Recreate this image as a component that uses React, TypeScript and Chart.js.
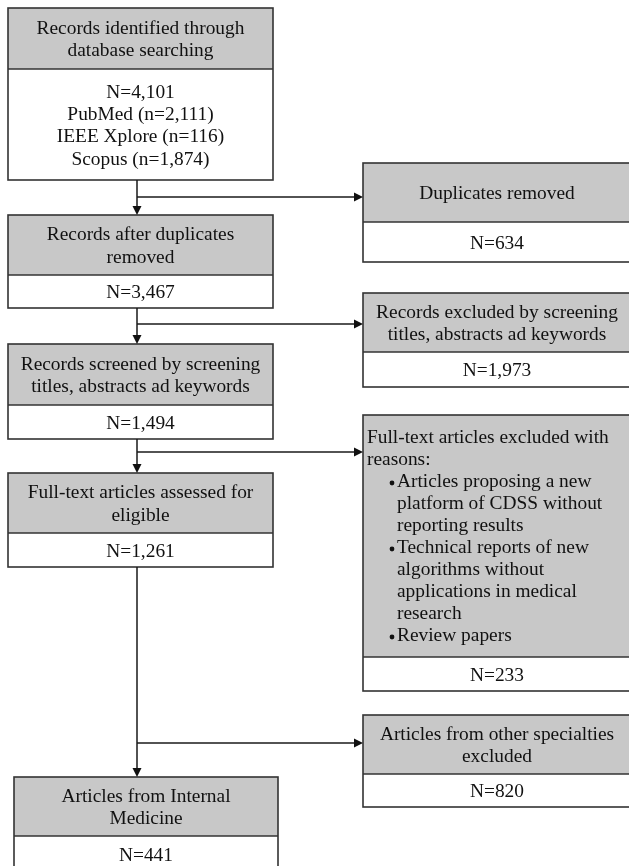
import React, { useEffect, useRef } from "react";
import { Chart, registerables } from "chart.js";

Chart.register(...registerables);

// ---------- content (data) ----------
const stageTitles = [
  ["Records identified through", "database searching"],
  ["Records after duplicates", "removed"],
  ["Records screened by screening", "titles, abstracts ad keywords"],
  ["Full-text articles assessed for", "eligible"],
  ["Articles from Internal", "Medicine"],
];
const stageCounts = [4101, 3467, 1494, 1261, 441];

const sourceNames = ["PubMed", "IEEE Xplore", "Scopus"];
const sourceCounts = [2111, 116, 1874];

const exclusionTitles = [
  ["Duplicates removed"],
  ["Records excluded by screening", "titles, abstracts ad keywords"],
  ["Full-text articles excluded with", "reasons:"],
  ["Articles from other specialties", "excluded"],
];
const exclusionCounts = [634, 1973, 233, 820];
const exclusionReasons = [
  ["Articles proposing a new", "platform of CDSS without", "reporting results"],
  ["Technical reports of new", "algorithms without", "applications in medical", "research"],
  ["Review papers"],
];

// ---------- layout (in axis units) ----------
const leftX = [[8, 273], [8, 273], [8, 273], [8, 273], [14, 278]];
const leftY = [
  [8, 69, 180],
  [215, 275, 308],
  [344, 405, 439],
  [473, 533, 567],
  [777, 836, 872],
];
const rightX = [363, 631];
const rightY = [
  [163, 222, 262],
  [293, 352, 387],
  [415, 657, 691],
  [715, 774, 807],
];
const trunkX = 137;
const branchY = [197, 324, 452, 743];

const fmt = (n: number) => n.toLocaleString("en-US");

const FONT = '19.4px "Liberation Serif", "Times New Roman", serif';
const LH = 22.3;
const GRAY = "#c8c8c8";
const EDGE = "#333333";
const INK = "#111111";

export default function App() {
  const ref = useRef<HTMLCanvasElement | null>(null);

  useEffect(() => {
    const canvas = ref.current;
    if (!canvas) return;

    // connectors as line datasets
    const connectors: { x: number; y: number }[][] = [];
    for (let i = 0; i < 4; i++) {
      const fromY = leftY[i][2];
      const toY = leftY[i + 1][0];
      connectors.push([
        { x: trunkX, y: fromY },
        { x: trunkX, y: toY - 8 },
      ]);
      connectors.push([
        { x: trunkX, y: branchY[i] },
        { x: rightX[0] - 8, y: branchY[i] },
      ]);
    }

    const boxesPlugin = {
      id: "flowBoxes",
      beforeDatasetsDraw(chart: any) {
        const { ctx, scales } = chart;
        const px = (v: number) => scales.x.getPixelForValue(v);
        const py = (v: number) => scales.y.getPixelForValue(v);

        const drawBox = (x0: number, x1: number, y0: number, y1: number, y2: number) => {
          const X0 = px(x0), X1 = px(x1), Y0 = py(y0), Y1 = py(y1), Y2 = py(y2);
          ctx.save();
          ctx.fillStyle = GRAY;
          ctx.fillRect(X0, Y0, X1 - X0, Y1 - Y0);
          ctx.fillStyle = "#ffffff";
          ctx.fillRect(X0, Y1, X1 - X0, Y2 - Y1);
          ctx.strokeStyle = EDGE;
          ctx.lineWidth = 1.6;
          ctx.strokeRect(X0, Y0, X1 - X0, Y2 - Y0);
          ctx.beginPath();
          ctx.moveTo(X0, Y1);
          ctx.lineTo(X1, Y1);
          ctx.stroke();
          ctx.restore();
        };

        const centeredLines = (lines: string[], cx: number, top: number, bottom: number) => {
          ctx.save();
          ctx.font = FONT;
          ctx.fillStyle = INK;
          ctx.textAlign = "center";
          ctx.textBaseline = "middle";
          const mid = (py(top) + py(bottom)) / 2 + 1.5;
          const start = mid - ((lines.length - 1) * LH) / 2;
          lines.forEach((l, i) => ctx.fillText(l, px(cx), start + i * LH));
          ctx.restore();
        };

        // left column stages
        stageTitles.forEach((title, i) => {
          const [x0, x1] = leftX[i];
          const [y0, y1, y2] = leftY[i];
          drawBox(x0, x1, y0, y1, y2);
          const cx = (x0 + x1) / 2;
          centeredLines(title, cx, y0, y1);
          const body = ["N=" + fmt(stageCounts[i])];
          if (i === 0) {
            sourceNames.forEach((s, k) => body.push(`${s} (n=${fmt(sourceCounts[k])})`));
          }
          centeredLines(body, cx, y1, y2);
        });

        // right column exclusions
        exclusionTitles.forEach((title, i) => {
          const [y0, y1, y2] = rightY[i];
          drawBox(rightX[0], rightX[1], y0, y1, y2);
          const cx = (rightX[0] + rightX[1]) / 2;
          if (i === 2) {
            // left-aligned with bullets
            const rows: { t: string; bullet: boolean; indent: boolean }[] = [];
            title.forEach((t) => rows.push({ t, bullet: false, indent: false }));
            exclusionReasons.forEach((r) =>
              r.forEach((t, k) => rows.push({ t, bullet: k === 0, indent: true }))
            );
            ctx.save();
            ctx.font = FONT;
            ctx.fillStyle = INK;
            ctx.textAlign = "left";
            ctx.textBaseline = "middle";
            const mid = (py(y0) + py(y1)) / 2 + 1;
            const start = mid - ((rows.length - 1) * 22) / 2;
            rows.forEach((r, k) => {
              const yy = start + k * 22;
              if (r.indent) {
                if (r.bullet) {
                  ctx.beginPath();
                  ctx.arc(px(rightX[0] + 29), yy + 1, 2.4, 0, Math.PI * 2);
                  ctx.fill();
                }
                ctx.fillText(r.t, px(rightX[0] + 34), yy);
              } else {
                ctx.fillText(r.t, px(rightX[0] + 4), yy);
              }
            });
            ctx.restore();
          } else {
            centeredLines(title, cx, y0, y1);
          }
          centeredLines(["N=" + fmt(exclusionCounts[i])], cx, y1, y2);
        });
      },
      afterDatasetsDraw(chart: any) {
        const { ctx, scales } = chart;
        const px = (v: number) => scales.x.getPixelForValue(v);
        const py = (v: number) => scales.y.getPixelForValue(v);
        ctx.save();
        ctx.fillStyle = "#111";
        for (let i = 0; i < 4; i++) {
          // down arrow
          const tx = px(trunkX), ty = py(leftY[i + 1][0]);
          ctx.beginPath();
          ctx.moveTo(tx, ty);
          ctx.lineTo(tx - 4.5, ty - 9);
          ctx.lineTo(tx + 4.5, ty - 9);
          ctx.closePath();
          ctx.fill();
          // right arrow
          const rx = px(rightX[0]), ry = py(branchY[i]);
          ctx.beginPath();
          ctx.moveTo(rx, ry);
          ctx.lineTo(rx - 9, ry - 4.5);
          ctx.lineTo(rx - 9, ry + 4.5);
          ctx.closePath();
          ctx.fill();
        }
        ctx.restore();
      },
    };

    const chart = new Chart(canvas, {
      type: "scatter",
      data: {
        datasets: connectors.map((pts) => ({
          data: pts,
          showLine: true,
          borderColor: "#1a1a1a",
          borderWidth: 1.5,
          pointRadius: 0,
          fill: false,
        })),
      },
      options: {
        animation: false,
        responsive: false,
        maintainAspectRatio: false,
        events: [],
        layout: { padding: 0 },
        plugins: {
          legend: { display: false },
          tooltip: { enabled: false },
        },
        scales: {
          x: { type: "linear", min: 0, max: 629, display: false },
          y: { type: "linear", min: 0, max: 866, reverse: true, display: false },
        },
      },
      plugins: [boxesPlugin],
    } as any);

    return () => chart.destroy();
  }, []);

  return (
    <div style={{ position: "absolute", left: 0, top: 0, width: 629, height: 866, background: "#fff" }}>
      <canvas ref={ref} width={629} height={866} style={{ display: "block", width: 629, height: 866 }} />
    </div>
  );
}
